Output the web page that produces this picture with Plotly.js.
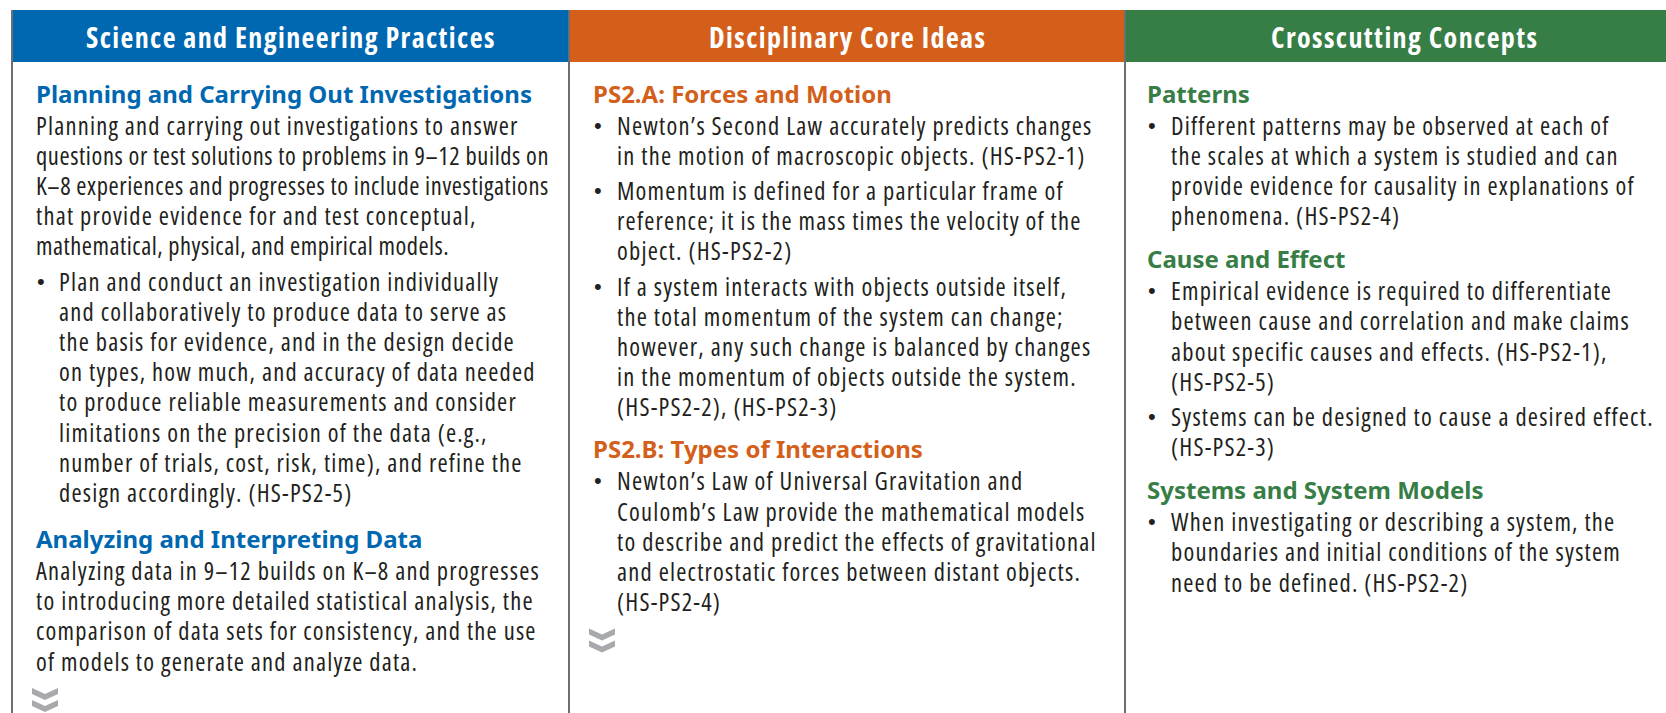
<!DOCTYPE html>
<html>
<head>
<meta charset="utf-8">
<script src="https://cdn.plot.ly/plotly-3.0.1.min.js"></script>
<style>html,body{margin:0;padding:0;background:#fff;}#chart{width:1666px;height:713px;}
text[style*="Open Sans"]{font-stretch:75%;letter-spacing:1.2px;}
text[style*="font-size: 28px"]{font-stretch:75%;letter-spacing:1.4px;}</style>
</head>
<body>
<div id="chart"></div>
<script>
// ---- content ----
const headers = ["Science and Engineering Practices", "Disciplinary Core Ideas", "Crosscutting Concepts"];
const headerColors = ["#0067b1", "#d35f1b", "#367e45"];

const c1Heading1 = "Planning and Carrying Out Investigations";
const c1Para1 = [
  "Planning and carrying out investigations to answer",
  "questions or test solutions to problems in 9–12 builds on",
  "K–8 experiences and progresses to include investigations",
  "that provide evidence for and test conceptual,",
  "mathematical, physical, and empirical models."
];
const c1Bullet1 = [
  "Plan and conduct an investigation individually",
  "and collaboratively to produce data to serve as",
  "the basis for evidence, and in the design decide",
  "on types, how much, and accuracy of data needed",
  "to produce reliable measurements and consider",
  "limitations on the precision of the data (e.g.,",
  "number of trials, cost, risk, time), and refine the",
  "design accordingly. (HS-PS2-5)"
];
const c1Heading2 = "Analyzing and Interpreting Data";
const c1Para2 = [
  "Analyzing data in 9–12 builds on K–8 and progresses",
  "to introducing more detailed statistical analysis, the",
  "comparison of data sets for consistency, and the use",
  "of models to generate and analyze data."
];

const c2Heading1 = "PS2.A: Forces and Motion";
const c2Bullet1 = [
  "Newton’s Second Law accurately predicts changes",
  "in the motion of macroscopic objects. (HS-PS2-1)"
];
const c2Bullet2 = [
  "Momentum is defined for a particular frame of",
  "reference; it is the mass times the velocity of the",
  "object. (HS-PS2-2)"
];
const c2Bullet3 = [
  "If a system interacts with objects outside itself,",
  "the total momentum of the system can change;",
  "however, any such change is balanced by changes",
  "in the momentum of objects outside the system.",
  "(HS-PS2-2), (HS-PS2-3)"
];
const c2Heading2 = "PS2.B: Types of Interactions";
const c2Bullet4 = [
  "Newton’s Law of Universal Gravitation and",
  "Coulomb’s Law provide the mathematical models",
  "to describe and predict the effects of gravitational",
  "and electrostatic forces between distant objects.",
  "(HS-PS2-4)"
];

const c3Heading1 = "Patterns";
const c3Bullet1 = [
  "Different patterns may be observed at each of",
  "the scales at which a system is studied and can",
  "provide evidence for causality in explanations of",
  "phenomena. (HS-PS2-4)"
];
const c3Heading2 = "Cause and Effect";
const c3Bullet2 = [
  "Empirical evidence is required to differentiate",
  "between cause and correlation and make claims",
  "about specific causes and effects. (HS-PS2-1),",
  "(HS-PS2-5)"
];
const c3Bullet3 = [
  "Systems can be designed to cause a desired effect.",
  "(HS-PS2-3)"
];
const c3Heading3 = "Systems and System Models";
const c3Bullet4 = [
  "When investigating or describing a system, the",
  "boundaries and initial conditions of the system",
  "need to be defined. (HS-PS2-2)"
];

// ---- styling / layout ----
const W = 1666, H = 713;
const colEdges = [12, 569, 1125, 1666];
const headerTop = 10, headerBottom = 62;
const headerTextX = [291, 847, 1404];
const textX = [34, 591, 1145];
const bulletX = [41, 598, 1152];
const indentX = [57, 615, 1169];
const firstHeadingY = 93, P = 30.2, G = 5, HG = 32, CH = 34;
const sectionGap = [46, 42, 43];

// lines that the original sets with tighter tracking so they fit the column
const tightTracking = [
  [c1Para1[1], 0.6],
  [c1Para1[2], 0.6],
  [c1Para1[4], 0.5]
];

const bodyFont = "'Open Sans', sans-serif";
const headFont = "'Noto Sans', sans-serif";
const bulletFont = "'Liberation Sans', Arial, sans-serif";
const textColor = "#231f20";
const lineColor = "#6d6e71";
const chevColor = "#a7a9ac";

const columns = [
  [["h", c1Heading1], ["p", c1Para1], ["b", c1Bullet1], ["h", c1Heading2], ["p", c1Para2]],
  [["h", c2Heading1], ["b", c2Bullet1], ["b", c2Bullet2], ["b", c2Bullet3], ["h", c2Heading2], ["b", c2Bullet4]],
  [["h", c3Heading1], ["b", c3Bullet1], ["h", c3Heading2], ["b", c3Bullet2], ["b", c3Bullet3], ["h", c3Heading3], ["b", c3Bullet4]]
];
const chevronCols = [true, true, false];

function styledLine(line) {
  const t = tightTracking.find(function (e) { return e[0] === line; });
  return t ? '<span style="letter-spacing:' + t[1] + 'px">' + line + '</span>' : line;
}

const annotations = [];
const shapes = [];

for (let i = 0; i < 3; i++) {
  shapes.push({type: "rect", xref: "x", yref: "y", x0: colEdges[i], x1: colEdges[i + 1], y0: headerTop, y1: headerBottom,
    fillcolor: headerColors[i], line: {width: 0}, layer: "below"});
  annotations.push({xref: "x", yref: "y", x: headerTextX[i], y: (headerTop + headerBottom) / 2 + 1, text: "<b>" + headers[i] + "</b>",
    showarrow: false, xanchor: "center", yanchor: "middle",
    font: {family: "Open Sans", size: 28, color: "#ffffff"}});
}
for (let i = 0; i < 3; i++) {
  shapes.push({type: "line", xref: "x", yref: "y", x0: colEdges[i], x1: colEdges[i], y0: headerTop, y1: H,
    line: {color: lineColor, width: 2}});
}

function chevronPath(cx, cy) {
  const w = 13, t = 6, d = 6;
  let p = "";
  [cy - 7, cy + 5].forEach(function (top) {
    p += "M" + (cx - w) + "," + top + " L" + cx + "," + (top + d) + " L" + (cx + w) + "," + top +
      " L" + (cx + w) + "," + (top + t) + " L" + cx + "," + (top + d + t) + " L" + (cx - w) + "," + (top + t) + " Z ";
  });
  return p;
}

columns.forEach(function (blocks, ci) {
  let cur = null, prev = null;
  blocks.forEach(function (blk) {
    const kind = blk[0];
    if (kind === "h") {
      const y = cur === null ? firstHeadingY : cur + sectionGap[ci];
      annotations.push({xref: "x", yref: "y", x: textX[ci], y: y, text: "<b>" + blk[1] + "</b>", showarrow: false,
        xanchor: "left", yanchor: "middle", font: {family: headFont, size: 24, color: headerColors[ci]}});
      cur = y; prev = "h";
    } else {
      blk[1].forEach(function (line, li) {
        let y;
        if (li === 0) y = prev === "h" ? cur + HG : cur + P + G;
        else y = cur + P;
        if (kind === "b" && li === 0) {
          annotations.push({xref: "x", yref: "y", x: bulletX[ci], y: y, text: "•", showarrow: false,
            xanchor: "center", yanchor: "middle", font: {family: bulletFont, size: 22, color: textColor}});
        }
        annotations.push({xref: "x", yref: "y", x: kind === "b" ? indentX[ci] : textX[ci], y: y, text: styledLine(line),
          showarrow: false, xanchor: "left", yanchor: "middle", font: {family: bodyFont, size: 24.5, color: textColor}});
        cur = y;
      });
      prev = kind;
    }
  });
  if (chevronCols[ci]) {
    shapes.push({type: "path", xref: "x", yref: "y", path: chevronPath(textX[ci] + 11, cur + CH),
      fillcolor: chevColor, line: {width: 0}});
  }
});

const data = [{x: [0], y: [0], mode: "markers", marker: {opacity: 0}, hoverinfo: "skip", showlegend: false}];
const layout = {
  width: W, height: H, margin: {l: 0, r: 0, t: 0, b: 0},
  paper_bgcolor: "#ffffff", plot_bgcolor: "#ffffff",
  xaxis: {range: [0, W], visible: false, fixedrange: true},
  yaxis: {range: [H, 0], visible: false, fixedrange: true},
  showlegend: false, shapes: shapes, annotations: annotations
};
Plotly.newPlot("chart", data, layout, {staticPlot: true, displayModeBar: false});
</script>
</body>
</html>
